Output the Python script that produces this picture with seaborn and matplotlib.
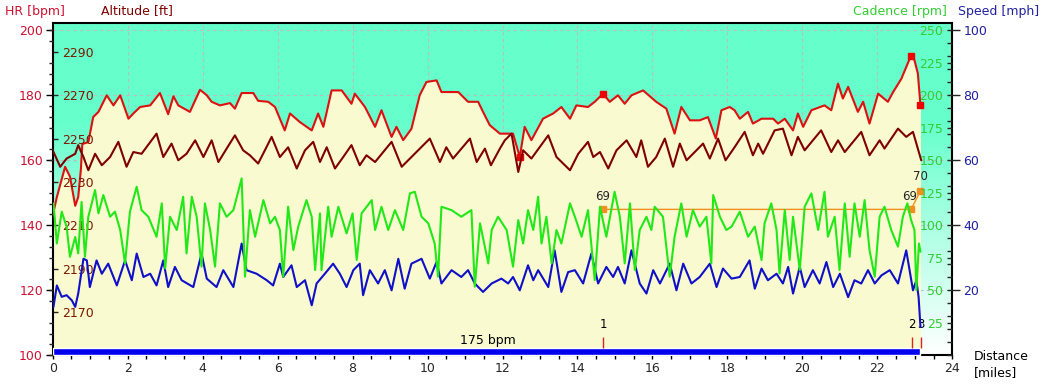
import numpy as np
import matplotlib
matplotlib.use("Agg")
import matplotlib.pyplot as plt
import matplotlib.colors as mcolors
from matplotlib.ticker import MultipleLocator
import seaborn as sns

## data
# heart rate [bpm]
hr_dist = [0.0, 0.11, 0.33, 0.46, 0.6, 0.68, 0.75, 0.79, 0.95, 1.08, 1.22, 1.44, 1.62, 1.8, 2.02, 2.15,
           2.33, 2.6, 2.86, 3.08, 3.22, 3.35, 3.66, 3.93, 4.11, 4.24, 4.46, 4.73, 4.86, 5.04, 5.35, 5.48,
           5.75, 5.93, 6.19, 6.33, 6.59, 6.91, 7.08, 7.22, 7.44, 7.71, 7.97, 8.06, 8.33, 8.6, 8.77, 9.04,
           9.17, 9.35, 9.57, 9.79, 9.97, 10.24, 10.37, 10.82, 11.08, 11.35, 11.48, 11.66, 11.93, 12.28,
           12.46, 12.59, 12.77, 13.08, 13.35, 13.57, 13.8, 13.97, 14.28, 14.46, 14.68, 14.86, 15.08, 15.26,
           15.44, 15.75, 16.1, 16.37, 16.59, 16.77, 17.0, 17.26, 17.48, 17.69, 17.84, 18.06, 18.19, 18.33,
           18.55, 18.68, 18.91, 19.22, 19.35, 19.53, 19.75, 19.88, 20.02, 20.24, 20.59, 20.77, 20.95, 21.08,
           21.22, 21.48, 21.62, 21.79, 22.02, 22.28, 22.42, 22.64, 22.89, 22.99, 23.08, 23.15]
hr = [143, 148.7, 158, 155, 146, 148.7, 157, 165, 165.6, 173.3, 174.9, 180, 176.9, 180, 172.8, 174.4,
      176.4, 176.9, 180.7, 174.2, 179.7, 176.9, 174.9, 181.7, 180, 178, 176.9, 177.6, 175.9, 180.7, 180.7, 178.3,
      178, 176.4, 169.2, 174.4, 171.8, 169.2, 174.4, 170.3, 181.5, 181.5, 177.4, 180.5, 176.4, 170.3, 175.4, 167.2,
      170.3, 166.2, 169.7, 180, 184.1, 184.6, 181, 181, 178, 178, 174.9, 170.8, 168.2, 168.2,
      161, 170.3, 166.2, 172.8, 174.4, 176.4, 172.8, 176.9, 176.4, 178, 180.5, 178, 180, 177.4,
      180, 181.5, 178, 175.9, 168.2, 176.4, 172.3, 172.3, 173.3, 166.7, 175.4, 176.4, 175.4, 172.8,
      174.9, 171.3, 172.8, 172.8, 171.3, 172.8, 169.2, 174.4, 170.3, 175.4, 176.9, 175.4, 183.6, 179,
      182.6, 174.9, 178, 171.3, 180.5, 178, 181, 185.1, 192, 190.8, 186.7, 176.9]
hr_mark_dist = [12.46, 14.68, 22.89, 23.15]
hr_mark = [161, 180.5, 192, 176.9]

# altitude [ft]
alt_dist = [0.0, 0.2, 0.37, 0.6, 0.68, 0.82, 0.95, 1.13, 1.31, 1.53, 1.75, 1.97, 2.15, 2.37, 2.77, 2.95,
            3.17, 3.35, 3.57, 3.8, 4.02, 4.24, 4.42, 4.64, 4.86, 5.08, 5.26, 5.48, 5.66, 5.84, 6.06, 6.28,
            6.51, 6.73, 6.95, 7.13, 7.31, 7.53, 7.75, 7.97, 8.19, 8.37, 8.6, 9.04, 9.31, 9.57, 10.06, 10.33,
            10.5, 10.68, 11.13, 11.31, 11.53, 11.69, 11.93, 12.06, 12.24, 12.42, 12.55, 12.77, 13.22, 13.44,
            13.8, 14.02, 14.28, 14.42, 14.6, 14.82, 15.04, 15.31, 15.57, 15.7, 15.88, 16.1, 16.33, 16.55,
            16.73, 16.91, 17.35, 17.53, 17.75, 17.95, 18.19, 18.46, 18.68, 18.82, 18.95, 19.26, 19.48, 19.71,
            19.88, 20.06, 20.5, 20.77, 20.95, 21.13, 21.57, 21.79, 22.06, 22.19, 22.55, 22.77, 22.95, 23.17]
alt = [2244.6, 2237, 2240.8, 2243, 2247, 2241.5, 2235.4, 2243, 2237.7, 2241.5, 2248.5, 2237, 2243.8, 2243, 2252.3, 2241.5,
       2247.7, 2240, 2243, 2249.2, 2241.5, 2249.2, 2239.2, 2245.4, 2251.5, 2244.6, 2242.3, 2238.5, 2244.6, 2250.8, 2241.5, 2246,
       2236.2, 2244.6, 2248.5, 2239.2, 2246, 2236.2, 2241.5, 2247, 2237.7, 2242.3, 2239.2, 2248.5, 2237, 2241.5, 2250, 2239.2,
       2246, 2240.8, 2250, 2239.2, 2245.4, 2237.7, 2245.4, 2249.2, 2252.3, 2234.6, 2244.6, 2240.8, 2251.5, 2241.5,
       2235.4, 2243, 2248.5, 2241.5, 2243.8, 2236.2, 2244.6, 2249.2, 2241.5, 2249.2, 2237, 2241.5, 2250, 2237,
       2247.7, 2240, 2247.7, 2240.8, 2250, 2240, 2246, 2253.1, 2242.3, 2247.7, 2243, 2253.8, 2254.6, 2242.3,
       2250.8, 2244.6, 2253.8, 2243.8, 2249.2, 2243.8, 2253.1, 2242.3, 2249.2, 2245.4, 2254.6, 2250.8, 2253.1, 2240]

# cadence [rpm]
cad_dist = [0.02, 0.11, 0.24, 0.37, 0.46, 0.6, 0.68, 0.77, 0.86, 0.95, 1.13, 1.22, 1.35, 1.53, 1.66, 1.8,
            1.93, 2.06, 2.24, 2.37, 2.55, 2.77, 2.91, 3.0, 3.13, 3.31, 3.48, 3.57, 3.71, 3.84, 3.97, 4.06,
            4.2, 4.33, 4.46, 4.64, 4.82, 5.04, 5.13, 5.26, 5.4, 5.62, 5.8, 5.93, 6.06, 6.15, 6.28, 6.42,
            6.55, 6.77, 6.91, 7.0, 7.13, 7.17, 7.35, 7.44, 7.62, 7.84, 8.0, 8.11, 8.24, 8.51, 8.6, 8.77,
            8.95, 9.13, 9.35, 9.53, 9.66, 9.84, 10.02, 10.19, 10.28, 10.37, 10.64, 10.9, 11.17, 11.26, 11.4,
            11.62, 11.71, 11.88, 12.11, 12.28, 12.42, 12.55, 12.68, 12.82, 12.95, 13.04, 13.17, 13.31, 13.44,
            13.57, 13.8, 13.93, 14.11, 14.28, 14.46, 14.6, 14.77, 14.99, 15.13, 15.26, 15.4, 15.53, 15.66,
            15.84, 15.97, 16.06, 16.28, 16.46, 16.59, 16.77, 16.91, 17.08, 17.26, 17.44, 17.57, 17.62, 17.8,
            17.97, 18.11, 18.33, 18.55, 18.73, 18.91, 18.99, 19.17, 19.31, 19.39, 19.53, 19.66, 19.75, 19.93,
            20.06, 20.24, 20.42, 20.59, 20.68, 20.86, 20.99, 21.13, 21.26, 21.39, 21.53, 21.66, 21.79, 21.93,
            22.06, 22.19, 22.37, 22.55, 22.68, 22.8, 22.9, 22.99, 23.04, 23.11, 23.15]
cad = [116.9, 86, 110.5, 99, 75.8, 91, 78.4, 118, 75.8, 106.6, 127.1, 109.2, 123.3, 106.6, 110.5, 96.4,
       70.7, 110.5, 129.7, 111.7, 106.6, 91.2, 116.9, 66.9, 106.6, 96.4, 122, 78.4, 122, 106.6, 68.2, 116.9,
       96.4, 68.2, 116.9, 106.6, 111.7, 136.1, 60.5, 111.7, 91.2, 119.4, 101.5, 106.6, 96.4, 60.5, 114.3, 81,
       99, 119.4, 106.6, 65.6, 109.2, 65.6, 114.3, 91.2, 114.3, 93.8, 109.2, 73.3, 109.2, 119.4, 96.4, 114.3,
       96.4, 111.7, 96.4, 124.6, 125.8, 106.6, 101.5, 86, 60.5, 114.3, 111.7, 106.6, 111.7, 52.8, 101.5,
       70.7, 96.4, 106.6, 96.4, 68.2, 104, 86, 111.7, 96.4, 122, 86, 106.6, 70.7, 96.4,
       86, 116.9, 106.6, 91.2, 111.7, 57.9, 114.3, 91.2, 125.8, 106.6, 70.7, 116.9, 65.6, 96.4,
       106.6, 96.4, 114.3, 106.6, 60.5, 91.2, 116.9, 91.2, 111.7, 99, 106.6, 70.7, 123.3, 106.6,
       96.4, 99, 110.5, 91.2, 99, 73.3, 101.5, 116.9, 96.4, 63, 111.7, 73.3, 106.6, 65.6,
       114.3, 124.6, 96.4, 125.8, 91.2, 106.6, 65.6, 116.9, 75.8, 116.9, 91.2, 119.4, 81, 60.5,
       106.6, 114.3, 96.4, 83.6, 106.6, 116.9, 104, 96.4, 50.2, 86, 79.7]

# speed [mph]
spd_dist = [0.02, 0.11, 0.24, 0.37, 0.51, 0.6, 0.68, 0.82, 0.91, 0.99, 1.17, 1.31, 1.48, 1.71, 1.93, 2.11,
            2.24, 2.42, 2.6, 2.77, 2.95, 3.08, 3.26, 3.44, 3.75, 3.97, 4.11, 4.37, 4.55, 4.82, 5.04, 5.17,
            5.44, 5.71, 5.88, 6.06, 6.15, 6.37, 6.51, 6.73, 6.91, 7.04, 7.26, 7.48, 7.66, 7.84, 8.02, 8.19,
            8.28, 8.46, 8.68, 8.86, 9.04, 9.22, 9.39, 9.57, 9.84, 10.06, 10.24, 10.37, 10.64, 10.9, 11.08,
            11.26, 11.48, 11.71, 11.97, 12.15, 12.28, 12.46, 12.68, 12.82, 12.95, 13.22, 13.39, 13.57, 13.75,
            13.93, 14.15, 14.37, 14.55, 14.77, 14.95, 15.08, 15.26, 15.44, 15.66, 15.84, 16.02, 16.2, 16.46,
            16.64, 16.82, 17.04, 17.26, 17.53, 17.71, 17.88, 18.11, 18.33, 18.59, 18.73, 18.91, 19.08, 19.31,
            19.48, 19.62, 19.75, 19.93, 20.06, 20.28, 20.46, 20.64, 20.82, 21.0, 21.22, 21.39, 21.57, 21.75,
            21.93, 22.11, 22.33, 22.55, 22.77, 22.95, 23.04, 23.1, 23.15]
spd = [14.9, 21.5, 18, 18.5, 16.9, 14.9, 19, 29.7, 29.2, 21, 29.2, 25.1, 28.2, 21.5, 29.2, 23.1,
       31.3, 24.1, 25.1, 21.5, 29.2, 21, 27.2, 23.1, 21, 31.3, 23.6, 21, 26.2, 21, 34.4, 26.2,
       25.1, 23.1, 21.5, 28.2, 24.1, 27.7, 21, 23.1, 15.4, 22.1, 25.1, 28.2, 25.1, 21, 26.2, 28.2,
       18.5, 26.2, 22.1, 26.2, 20, 29.7, 20.5, 28.2, 29.7, 23.6, 28.7, 22.1, 26.2, 24.1, 26.2,
       22.1, 19.5, 22.1, 23.6, 22.1, 24.1, 20, 27.7, 23.1, 26.2, 21, 32.3, 19.5, 25.6,
       26.2, 22.1, 31.3, 22.1, 27.2, 24.1, 27.2, 22.1, 32.3, 22.1, 19, 26.2, 22.1, 28.2,
       20, 28.2, 22.1, 24.1, 28.2, 21, 26.7, 23.6, 24.1, 29.2, 20.5, 26.7, 23.1, 25.1,
       22.1, 27.2, 19, 27.2, 21, 26.2, 22.1, 28.7, 21, 25.1, 17.9, 23.1, 22.1, 26.2,
       22.1, 24.6, 26.2, 22.1, 32.3, 20, 23.1, 17.9, 8.7]

# laps
lap_dist = [14.68, 22.9, 23.15]
lap_hr = [144.9, 144.9, 150.6]
lap_text = ["69", "69", "70"]
lap_no_dist = [14.68, 22.92, 23.16]
lap_no = ["1", "2", "3"]
zone_end = 23.15
zone_text = "175 bpm"

## colours
AQUA = "#66FFCC"
YELLOW = "#FAFAD0"
C_HR = "#DD1111"
C_HR_TXT = "#CC1133"
C_ALT = "#7F0000"
C_ALT_TXT = "#7A1A00"
C_CAD = "#22E81A"
C_CAD_TXT = "#33CC33"
C_SPD = "#1010C8"
C_SPD_TXT = "#2020A0"

sns.set_style("ticks")
plt.rcParams['font.family'] = ['DejaVu Sans']
plt.rcParams['font.size'] = 9

fig = plt.figure(figsize=(10.44, 3.84), dpi=100)
ax = fig.add_axes([0.0505, 0.0747, 0.8617, 0.8646])

# background gradient (aqua at top fading to white at the bottom)
frac = np.linspace(0, 1, 256)[:, None]
w = np.clip(frac / 0.7, 0, 1)
aqua = np.array(mcolors.to_rgb(AQUA))
grad = 1 - w[..., None] * (1 - aqua)
ax.imshow(grad, extent=[0, 1, 0, 1], transform=ax.transAxes, origin='lower',
          aspect='auto', zorder=0)

ax.set_axisbelow(True)
ax.grid(True, which='major', color="#BDBDBD", ls=(0, (3, 3)), lw=0.8)
ax.fill_between(hr_dist, 100, hr, color=YELLOW, lw=0, zorder=1)

# zone bar + lap markers
ax.broken_barh([(0, zone_end)], (100, 2.15), facecolor="#0000EE", zorder=3)
ax.text(11.6, 104.7, zone_text, ha='center', va='center', fontsize=9, color='black')
ax.vlines(lap_no_dist, 102.2, 105.7, color="#DD2222", lw=1, zorder=3)
for x, t in zip(lap_no_dist, lap_no):
    ax.text(x, 109.4, t, ha='center', va='center', fontsize=8.5, color='black')

ax.plot(lap_dist, lap_hr, color="#F09020", lw=1, marker='s', ms=4, zorder=4)
for x, y, t in zip(lap_dist, lap_hr, lap_text):
    ax.annotate(t, (x, y), xytext=(-1 if t == "69" and x > 20 else 0, 10 if t == "70" else 9),
                textcoords='offset points', ha='center', va='center', fontsize=8.5)

sns.lineplot(x=hr_dist, y=hr, ax=ax, color=C_HR, lw=1.5, estimator=None, zorder=5)
ax.plot(hr_mark_dist, hr_mark, ls='none', marker='s', ms=4, color="#EE0000", zorder=6)

ax.set_xlim(0, 24)
ax.set_ylim(100, 202.15)
ax.xaxis.set_major_locator(MultipleLocator(2))
ax.xaxis.set_minor_locator(MultipleLocator(0.5))
ax.yaxis.set_major_locator(MultipleLocator(20))
ax.tick_params(axis='x', which='both', direction='out', length=3, width=1, color='black',
               labelsize=9, pad=2, bottom=True)
ax.tick_params(axis='y', which='major', direction='out', length=5, width=1, color='black',
               labelcolor=C_HR_TXT, labelsize=9, pad=2, left=True)
for s in ax.spines.values():
    s.set_color('black')
    s.set_linewidth(1.5)
ax.set_xlabel("")
ax.set_ylabel("")

# altitude axis on the inside of the left spine
ax_alt = ax.twinx()
ax_alt.spines['right'].set_position(('axes', 0))
sns.lineplot(x=alt_dist, y=alt, ax=ax_alt, color=C_ALT, lw=1.5, estimator=None)
ax_alt.set_ylim(2150, 2303.2)
ax_alt.set_yticks(range(2170, 2300, 20))
ax_alt.yaxis.set_minor_locator(MultipleLocator(5))
ax_alt.tick_params(axis='y', which='major', direction='out', length=3.5, width=1,
                   labelcolor=C_ALT_TXT, labelsize=9, pad=3)
ax_alt.tick_params(axis='y', which='minor', direction='in', length=3, width=1)

# speed axis (outer right)
ax_spd = ax.twinx()
sns.lineplot(x=spd_dist, y=spd, ax=ax_spd, color=C_SPD, lw=1.5, estimator=None)
ax_spd.set_ylim(0, 102.15)
ax_spd.set_yticks(range(20, 101, 20))
ax_spd.tick_params(axis='y', which='major', direction='out', length=6, width=1,
                   labelcolor=C_SPD_TXT, labelsize=9, pad=2)

# cadence axis on the inside of the right spine
ax_cad = ax.twinx()
ax_cad.yaxis.tick_left()
ax_cad.spines['left'].set_position(('axes', 1))
sns.lineplot(x=cad_dist, y=cad, ax=ax_cad, color=C_CAD, lw=1.5, estimator=None)
ax_cad.set_ylim(0, 255.4)
ax_cad.set_yticks(range(25, 251, 25))
ax_cad.yaxis.set_minor_locator(MultipleLocator(10))
ax_cad.tick_params(axis='y', which='both', direction='out', length=3.5, width=1,
                   labelcolor=C_CAD_TXT, labelsize=9, pad=3)

for a in (ax_alt, ax_spd, ax_cad):
    for s in a.spines.values():
        s.set_visible(False)
    a.set_xlim(0, 24)
    a.set_xlabel("")
    a.set_ylabel("")

# axis titles
fig.text(5 / 1044, 1 - 11 / 384, "HR [bpm]", color=C_HR_TXT, fontsize=9, va='center')
fig.text(101 / 1044, 1 - 11 / 384, "Altitude [ft]", color=C_ALT, fontsize=9, va='center')
fig.text(947 / 1044, 1 - 11 / 384, "Cadence [rpm]", color=C_CAD_TXT, fontsize=9, va='center', ha='right')
fig.text(958 / 1044, 1 - 11 / 384, "Speed [mph]", color=C_SPD_TXT, fontsize=9, va='center')
fig.text(974 / 1044, 1 - 357 / 384, "Distance", color='black', fontsize=9, va='center')
fig.text(974 / 1044, 1 - 373 / 384, "[miles]", color='black', fontsize=9, va='center')

fig.savefig("out.png", dpi=100)
